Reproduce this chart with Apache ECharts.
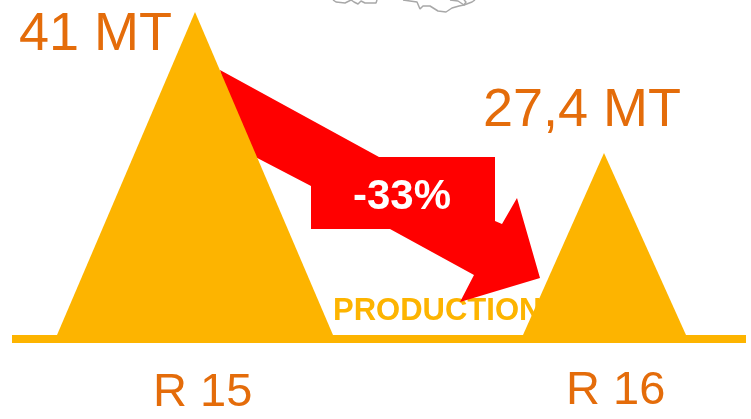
<!DOCTYPE html>
<html><head><meta charset="utf-8">
<style>html,body{margin:0;padding:0;background:#fff}#c{width:751px;height:419px}</style>
<script src="https://cdn.jsdelivr.net/npm/echarts@6/dist/echarts.min.js"></script>
</head><body><div id="c"></div>
<script>
// Reference frame: x and y, y grows downward
const roundNames = ['R 15', 'R 16'];
const productionLabels = ['41 MT', '27,4 MT'];
const peakX = [195, 604];
const peakY = [12, 153];
const baseLeft = [57, 523];
const baseRight = [333, 686];
const baselineY = [335, 343];
const baselineX = [12, 746];
const arrowOutline = [[220,70],[379,157],[495,157],[495,221],[502,224],[517,198],[540,278],[460,302],[474,275],[390,229],[311,229],[311,186],[240,149]];
const mapLineA = [[333,0],[336,2],[345,3],[351,0],[354,2],[358,4],[361,1],[365,3],[376,3],[377,0]];
const mapLineB = [[403,0],[410,1],[417,2],[420,9],[423,6],[430,6],[438,11],[446,12],[452,8],[459,6],[464,5],[463,5],[466,2],[464,0]];
const mapLineC = [[450,0],[458,1],[464,5],[472,2],[475,0]];
const gold = '#FDB400', orange = '#E46C0A';

function textItem(x, y, text, size, weight, fill, align) {
  return { type:'custom', coordinateSystem:'cartesian2d', silent:true, data:[[x,y]],
    encode:{x:0,y:1},
    renderItem:function(p,api){
      const c = api.coord([api.value(0),api.value(1)]);
      return {type:'text',x:c[0],y:c[1],style:{text:text,font:weight+' '+size+'px "Liberation Sans"',fill:fill,align:align||'left',verticalAlign:'middle'}};
    }, z:3};
}
function polygonSeries(points, fill, z){
  return { type:'custom', coordinateSystem:'cartesian2d', silent:true, data:points, z:z,
    encode:{x:0,y:1},
    renderItem:function(p,api){
      if(p.dataIndex!==0) return null;
      return {type:'polygon',shape:{points:points.map(function(q){return api.coord(q);})},style:{fill:fill}};
    }};
}
const series = [];
series.push(polygonSeries([[baselineX[0],baselineY[0]],[baselineX[1],baselineY[0]],[baselineX[1],baselineY[1]],[baselineX[0],baselineY[1]]],gold,5));
[mapLineA,mapLineB,mapLineC].forEach(function(l){
  series.push({type:'line',data:l,symbol:'none',silent:true,lineStyle:{color:'#A8A8A8',width:1.5},z:1});
});
series.push(Object.assign(textItem(333,311,'PRODUCTION',31,'bold',gold),{z:3}));
series.push(polygonSeries(arrowOutline,'#FF0000',4));
peakX.forEach(function(x,i){
  series.push(polygonSeries([[x,peakY[i]],[baseRight[i],baselineY[0]],[baseLeft[i],baselineY[0]]],gold,5));
});
series.push(Object.assign(textItem(353,197,'-33%',42,'bold','#FFFFFF'),{z:6}));
series.push(Object.assign(textItem(19,35,productionLabels[0],54,'normal',orange),{z:6}));
series.push(Object.assign(textItem(483,111,productionLabels[1],54,'normal',orange),{z:6}));
series.push(Object.assign(textItem(153,393,roundNames[0],47,'normal',orange),{z:6}));
series.push(Object.assign(textItem(566,391,roundNames[1],47,'normal',orange),{z:6}));

const chart = echarts.init(document.getElementById('c'),null,{renderer:'canvas'});
chart.setOption({
  animation:false,
  backgroundColor:'#fff',
  grid:{left:0,right:0,top:0,bottom:0},
  xAxis:{type:'value',min:0,max:751,show:false},
  yAxis:{type:'value',min:0,max:419,inverse:true,show:false},
  series:series
});
</script></body></html>
